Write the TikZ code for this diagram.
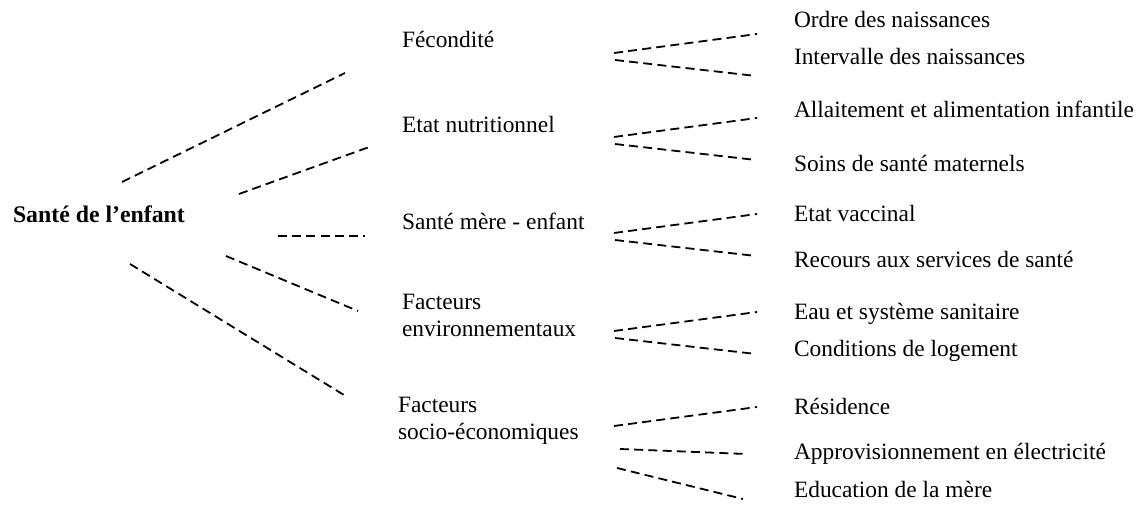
\documentclass[tikz,border=0pt]{standalone}
\usepackage{fontspec}
\setmainfont{Liberation Serif}
\begin{document}
\begin{tikzpicture}[x=0.5pt,y=-0.5pt,
  every node/.style={inner sep=0pt,outer sep=0pt,anchor=base west,font=\fontsize{11.7}{13.5}\selectfont},
  link/.style={draw=black,line width=0.9pt,dash pattern=on 4.5pt off 2.6pt},
  rootlbl/.style={font=\fontsize{11.9}{13.5}\selectfont\bfseries}]
\useasboundingbox (0,0) rectangle (1147,506);
% root
\node[rootlbl] (root) at (13,223) {Santé de l’enfant};
% middle column
\node (fec) at (402,48) {Fécondité};
\node (nut) at (402,133) {Etat nutritionnel};
\node (sme) at (402,230) {Santé mère - enfant};
\node (env) at (402,310) {\begin{tabular}[t]{@{}l@{}}Facteurs\\environnementaux\end{tabular}};
\node (soc) at (398,413) {\begin{tabular}[t]{@{}l@{}}Facteurs\\socio-économiques\end{tabular}};
% right column
\node (r1) at (794,28) {Ordre des naissances};
\node (r2) at (794,65) {Intervalle des naissances};
\node (r3) at (794,118) {Allaitement et alimentation infantile};
\node (r4) at (794,172) {Soins de santé maternels};
\node (r5) at (794,222) {Etat vaccinal};
\node (r6) at (794,268) {Recours aux services de santé};
\node (r7) at (794,320) {Eau et système sanitaire};
\node (r8) at (794,357) {Conditions de logement};
\node (r9) at (794,415) {Résidence};
\node (r10) at (794,460) {Approvisionnement en électricité};
\node (r11) at (794,498) {Education de la mère};
% left connectors end points
\coordinate (a1) at (122,182); \coordinate (b1) at (345,73);
\coordinate (a2) at (239,194); \coordinate (b2) at (372,146);
\coordinate (a3) at (278,236); \coordinate (b3) at (365,236);
\coordinate (a4) at (226,256); \coordinate (b4) at (358,311);
\coordinate (a5) at (130,264); \coordinate (b5) at (344,395);
\draw[link] (a1) -- (b1);
\draw[link] (a2) -- (b2);
\draw[link] (a3) -- (b3);
\draw[link] (a4) -- (b4);
\draw[link] (a5) -- (b5);
% right connectors
\coordinate (f1) at (614,53); \coordinate (g1) at (757,34);
\coordinate (f2) at (615,60); \coordinate (g2) at (756,76);
\coordinate (f3) at (614,137); \coordinate (g3) at (757,118);
\coordinate (f4) at (615,144); \coordinate (g4) at (756,160);
\coordinate (f5) at (614,233); \coordinate (g5) at (757,214);
\coordinate (f6) at (615,240); \coordinate (g6) at (756,256);
\coordinate (f7) at (614,331); \coordinate (g7) at (757,312);
\coordinate (f8) at (615,338); \coordinate (g8) at (756,354);
\coordinate (f9) at (614,426); \coordinate (g9) at (757,407);
\coordinate (f10) at (620,449); \coordinate (g10) at (746,454);
\coordinate (f11) at (617,468); \coordinate (g11) at (743,499);
\foreach \i in {1,...,11} {\draw[link] (f\i) -- (g\i);}
\end{tikzpicture}
\end{document}
